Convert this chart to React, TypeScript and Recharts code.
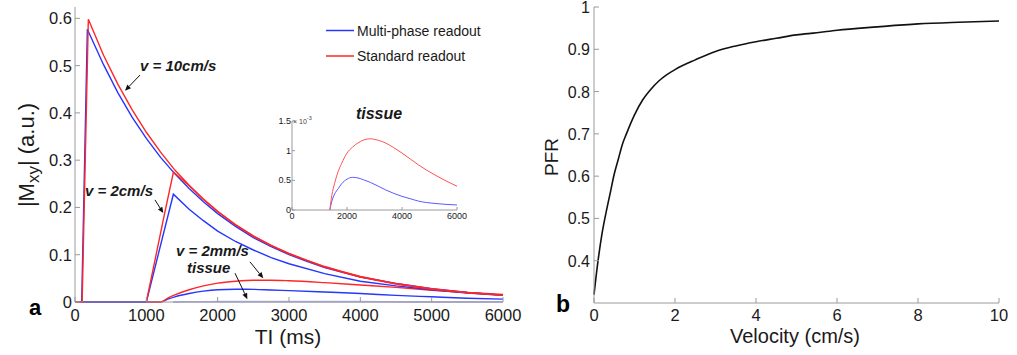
import React from "react";
import { LineChart, Line, XAxis, YAxis, ReferenceLine } from "recharts";

// ---- panel a: |Mxy| vs TI (ms) ----
const tiTicks = [0, 1000, 2000, 3000, 4000, 5000, 6000];
const mxyTicks = [0, 0.1, 0.2, 0.3, 0.4, 0.5, 0.6];

// v = 10cm/s
const red10T = [0, 100, 187, 400, 600, 800, 1000, 1200, 1400, 1600, 1800, 2000, 2250, 2500, 2750, 3000, 3250, 3500, 3750, 4000, 4500, 5000, 5500, 6000];
const red10V = [0, 0, 0.598, 0.522, 0.461, 0.407, 0.359, 0.317, 0.279, 0.247, 0.218, 0.192, 0.164, 0.14, 0.12, 0.103, 0.088, 0.075, 0.064, 0.054, 0.039, 0.028, 0.02, 0.0145];
const blue10T = [0, 94, 173, 400, 600, 800, 1000, 1200, 1400, 1600, 1800, 2000, 2250, 2500, 2750, 3000, 3250, 3500, 3750, 4000, 4500, 5000, 5500, 6000];
const blue10V = [0, 0, 0.577, 0.502, 0.443, 0.391, 0.346, 0.306, 0.271, 0.24, 0.212, 0.187, 0.16, 0.136, 0.117, 0.1, 0.086, 0.073, 0.063, 0.053, 0.039, 0.028, 0.02, 0.0145];

// v = 2cm/s
const red2T = [1000, 1130, 1260, 1380, 1600, 1800, 2000, 2250, 2500, 2750, 3000, 3500, 4000, 4500, 5000, 5500, 6000];
const red2V = [0, 0.095, 0.19, 0.275, 0.246, 0.217, 0.191, 0.163, 0.139, 0.119, 0.102, 0.074, 0.053, 0.038, 0.027, 0.0195, 0.014];
const blue2T = [0, 1000, 1379, 1600, 1800, 2000, 2250, 2500, 2750, 3000, 3500, 4000, 4500, 5000, 5500, 6000];
const blue2V = [0, 0, 0.228, 0.196, 0.172, 0.15, 0.128, 0.11, 0.094, 0.081, 0.06, 0.044, 0.034, 0.026, 0.019, 0.014];

// v = 2mm/s
const slowT = [0, 1200, 1300, 1400, 1600, 1800, 2000, 2250, 2500, 2750, 3000, 3500, 4000, 4500, 5000, 5500, 6000];
const redSlowV = [0, 0, 0.008, 0.015, 0.026, 0.034, 0.04, 0.044, 0.046, 0.046, 0.045, 0.041, 0.036, 0.031, 0.025, 0.02, 0.016];
const blueSlowV = [0, 0, 0.006, 0.011, 0.018, 0.023, 0.026, 0.027, 0.0268, 0.0255, 0.024, 0.021, 0.018, 0.014, 0.011, 0.008, 0.006];

// tissue (x 10^-3)
const tissueT = [1375, 1450, 1550, 1680, 1800, 2000, 2200, 2400, 2600, 2850, 3100, 3400, 3700, 4000, 4300, 4600, 4900, 5200, 5600, 6000];
const tissueRedV = [0, 0.25, 0.45, 0.65, 0.78, 0.96, 1.06, 1.13, 1.18, 1.2, 1.18, 1.13, 1.05, 0.96, 0.86, 0.76, 0.67, 0.59, 0.49, 0.4];
const tissueBlueV = [0, 0.15, 0.27, 0.36, 0.44, 0.52, 0.55, 0.54, 0.51, 0.465, 0.41, 0.34, 0.28, 0.23, 0.19, 0.15, 0.125, 0.11, 0.095, 0.085];
const insetXTicks = [0, 2000, 4000, 6000];
const insetYTicks = [0, 0.5, 1, 1.5];

// ---- panel b: PFR vs velocity ----
const velocity = [0, 0.1, 0.2, 0.3, 0.4, 0.5, 0.6, 0.7, 0.8, 1, 1.2, 1.4, 1.6, 1.8, 2, 2.5, 3, 3.5, 4, 4.5, 5, 5.5, 6, 7, 8, 9, 10];
const pfr = [0.32, 0.4, 0.465, 0.515, 0.56, 0.605, 0.64, 0.675, 0.7, 0.745, 0.78, 0.805, 0.825, 0.84, 0.852, 0.875, 0.895, 0.908, 0.918, 0.926, 0.934, 0.939, 0.945, 0.953, 0.96, 0.964, 0.967];
const velTicks = [0, 2, 4, 6, 8, 10];
const pfrTicks = [0.4, 0.5, 0.6, 0.7, 0.8, 0.9, 1];

const pts = (t: number[], v: number[], k = 1) => t.map((x, i) => ({ t: x, v: v[i] * k }));

const BLUE = "#2436ff";
const RED = "#ff2626";
const AXIS = "#9a9a9a";
const INK = "#1a1a1a";
const FONT = "'Liberation Sans', Arial, Helvetica, sans-serif";

// MATLAB-style ticks: marks point into the plot box, labels outside
const bottomTick = (len: number, fs: number, dy: number) => (p: any) => (
  <g>
    <line x1={p.x} x2={p.x} y1={p.y} y2={p.y - len} stroke={AXIS} />
    <text x={p.x} y={p.y + dy} textAnchor="middle" fontSize={fs} fill={INK} fontFamily={FONT}>
      {p.payload.value}
    </text>
  </g>
);
const leftTick = (len: number, fs: number, dx: number, dy: number) => (p: any) => (
  <g>
    <line x1={p.x} x2={p.x + len} y1={p.y} y2={p.y} stroke={AXIS} />
    <text x={p.x - dx} y={p.y + dy} textAnchor="end" fontSize={fs} fill={INK} fontFamily={FONT}>
      {p.payload.value}
    </text>
  </g>
);
const topTick = (len: number) => (p: any) => <line x1={p.x} x2={p.x} y1={p.y} y2={p.y + len} stroke={AXIS} />;
const rightTick = (len: number) => (p: any) => <line x1={p.x} x2={p.x - len} y1={p.y} y2={p.y} stroke={AXIS} />;

const arrow = (p: any) => {
  const { x1, y1, x2, y2 } = p;
  const a = Math.atan2(y2 - y1, x2 - x1);
  const L = 6;
  const w = 2.6;
  const bx = x2 - L * Math.cos(a);
  const by = y2 - L * Math.sin(a);
  const px = -Math.sin(a) * w;
  const py = Math.cos(a) * w;
  return (
    <g>
      <line x1={x1} y1={y1} x2={bx} y2={by} stroke="#111" strokeWidth={1} />
      <polygon points={`${x2},${y2} ${bx + px},${by + py} ${bx - px},${by - py}`} fill="#111" />
    </g>
  );
};

export default function App() {
  const lw = 1.4;
  return (
    <div style={{ position: "absolute", left: 0, top: 0, width: 1017, height: 355, background: "#fff", fontFamily: FONT }}>
      {/* panel a */}
      <div style={{ position: "absolute", left: 0, top: 0 }}>
        <LineChart width={540} height={355} margin={{ top: 7, right: 37, bottom: 0, left: 0 }}>
          <XAxis dataKey="t" type="number" domain={[0, 6000]} ticks={tiTicks} interval={0} height={53}
            stroke={AXIS} tickSize={0} tickMargin={0} tickLine={false} tick={bottomTick(5, 16.5, 18.5)} />
          <XAxis xAxisId="top" orientation="top" type="number" domain={[0, 6000]} ticks={tiTicks} interval={0} height={0}
            stroke={AXIS} tickSize={0} tickMargin={0} tickLine={false} tick={topTick(5)} />
          <YAxis type="number" domain={[0, 0.624]} ticks={mxyTicks} interval={0} width={75}
            stroke={AXIS} tickSize={0} tickMargin={0} tickLine={false} tick={leftTick(5, 16.5, 3, 6)} />
          <YAxis yAxisId="right" orientation="right" type="number" domain={[0, 0.624]} ticks={mxyTicks} interval={0} width={0}
            stroke={AXIS} tickSize={0} tickMargin={0} tickLine={false} tick={rightTick(5)} />
          <Line data={pts(tissueT, tissueBlueV, 0.001)} dataKey="v" stroke="#a9a9ff" strokeWidth={lw} dot={false} isAnimationActive={false} type="monotone" />
          <Line data={pts(tissueT, tissueRedV, 0.001)} dataKey="v" stroke="#b0b0e8" strokeWidth={lw} dot={false} isAnimationActive={false} type="monotone" />
          <Line data={pts(slowT, blueSlowV)} dataKey="v" stroke={BLUE} strokeWidth={lw} dot={false} isAnimationActive={false} type="monotone" />
          <Line data={pts(slowT, redSlowV)} dataKey="v" stroke={RED} strokeWidth={lw} dot={false} isAnimationActive={false} type="monotone" />
          <Line data={pts(blue2T, blue2V)} dataKey="v" stroke={BLUE} strokeWidth={lw} dot={false} isAnimationActive={false} type="linear" />
          <Line data={pts(blue10T, blue10V)} dataKey="v" stroke={BLUE} strokeWidth={lw} dot={false} isAnimationActive={false} type="linear" />
          <Line data={pts(red2T, red2V)} dataKey="v" stroke={RED} strokeWidth={lw} dot={false} isAnimationActive={false} type="linear" />
          <Line data={pts(red10T, red10V)} dataKey="v" stroke={RED} strokeWidth={lw} dot={false} isAnimationActive={false} type="linear" />
          <ReferenceLine segment={[{ x: 911, y: 0.48 }, { x: 701, y: 0.447 }]} shape={arrow} />
          <ReferenceLine segment={[{ x: 1121, y: 0.216 }, { x: 1238, y: 0.188 }]} shape={arrow} />
          <ReferenceLine segment={[{ x: 2453, y: 0.085 }, { x: 2640, y: 0.05 }]} shape={arrow} />
          <ReferenceLine segment={[{ x: 2243, y: 0.061 }, { x: 2416, y: 0.006 }]} shape={arrow} />
        </LineChart>
      </div>

      {/* inset */}
      <div style={{ position: "absolute", left: 262, top: 100 }}>
        <LineChart width={205} height={125} margin={{ top: 21, right: 10, bottom: 0, left: 0 }}>
          <XAxis dataKey="t" type="number" domain={[0, 6000]} ticks={insetXTicks} interval={0} height={15}
            stroke={AXIS} tickSize={0} tickMargin={0} tickLine={false} tick={bottomTick(3, 9, 8.5)} />
          <XAxis xAxisId="top" orientation="top" type="number" domain={[0, 6000]} ticks={insetXTicks} interval={0} height={0}
            stroke={AXIS} tickSize={0} tickMargin={0} tickLine={false} tick={topTick(3)} />
          <YAxis type="number" domain={[0, 1.5]} ticks={insetYTicks} interval={0} width={30}
            stroke={AXIS} tickSize={0} tickMargin={0} tickLine={false} tick={leftTick(3, 9, 1, 3)} />
          <YAxis yAxisId="right" orientation="right" type="number" domain={[0, 1.5]} ticks={insetYTicks} interval={0} width={0}
            stroke={AXIS} tickSize={0} tickMargin={0} tickLine={false} tick={rightTick(3)} />
          <Line data={pts(tissueT, tissueBlueV)} dataKey="v" stroke="#5a5aff" strokeWidth={1} dot={false} isAnimationActive={false} type="monotone" />
          <Line data={pts(tissueT, tissueRedV)} dataKey="v" stroke="#ff5252" strokeWidth={1} dot={false} isAnimationActive={false} type="monotone" />
        </LineChart>
      </div>

      {/* panel b */}
      <div style={{ position: "absolute", left: 520, top: 0 }}>
        <LineChart width={497} height={355} margin={{ top: 7, right: 18, bottom: 0, left: 0 }}>
          <XAxis dataKey="t" type="number" domain={[0, 10]} ticks={velTicks} interval={0} height={52}
            stroke={AXIS} tickSize={0} tickMargin={0} tickLine={false} tick={bottomTick(5, 16.5, 17.5)} />
          <XAxis xAxisId="top" orientation="top" type="number" domain={[0, 10]} ticks={velTicks} interval={0} height={0}
            stroke={AXIS} tickSize={0} tickMargin={0} tickLine={false} tick={topTick(5)} />
          <YAxis type="number" domain={[0.3, 1]} ticks={pfrTicks} interval={0} width={74}
            stroke={AXIS} tickSize={0} tickMargin={0} tickLine={false} tick={leftTick(5, 16, 4, 6)} />
          <YAxis yAxisId="right" orientation="right" type="number" domain={[0.3, 1]} ticks={pfrTicks} interval={0} width={0}
            stroke={AXIS} tickSize={0} tickMargin={0} tickLine={false} tick={rightTick(5)} />
          <Line data={pts(velocity, pfr)} dataKey="v" stroke="#111" strokeWidth={1.6} dot={false} isAnimationActive={false} type="monotone" />
        </LineChart>
      </div>

      {/* text overlay */}
      <svg width={1017} height={355} style={{ position: "absolute", left: 0, top: 0, pointerEvents: "none" }} fontFamily={FONT}>
        <line x1={326} x2={354} y1={30.5} y2={30.5} stroke={BLUE} strokeWidth={1.5} />
        <line x1={326} x2={354} y1={56} y2={56} stroke={RED} strokeWidth={1.5} />
        <text x={357} y={35.5} fontSize={14} fill={INK}>Multi-phase readout</text>
        <text x={357} y={61} fontSize={14} fill={INK}>Standard readout</text>

        <g fontSize={15} fontWeight="bold" fontStyle="italic" fill={INK}>
          <text x={140} y={70.5}>v = 10cm/s</text>
          <text x={85} y={195.5}>v = 2cm/s</text>
          <text x={176} y={256}>v = 2mm/s</text>
          <text x={187} y={273}>tissue</text>
        </g>
        <text x={379} y={119} fontSize={16} fontWeight="bold" fontStyle="italic" fill={INK} textAnchor="middle">tissue</text>
        <text x={293} y={124} fontSize={7} fill="#444">× 10<tspan fontSize={5.5} dy={-4}>-3</tspan></text>

        <text x={288} y={343.5} fontSize={21} fill={INK} textAnchor="middle">TI (ms)</text>
        <text x={34} y={155} fontSize={22} fill={INK} textAnchor="middle" transform="rotate(-90 34 155)">
          |M<tspan fontSize={17} dy={5}>xy</tspan><tspan dy={-5}>| (a.u.)</tspan>
        </text>
        <text x={795} y={342.5} fontSize={20} fill={INK} textAnchor="middle">Velocity (cm/s)</text>
        <text x={558} y={157} fontSize={19} fill={INK} textAnchor="middle" transform="rotate(-90 558 157)">PFR</text>

        <text x={29} y={315} fontSize={22} fontWeight="bold" fill="#000">a</text>
        <text x={556} y={312} fontSize={23} fontWeight="bold" fill="#000">b</text>
      </svg>
    </div>
  );
}
